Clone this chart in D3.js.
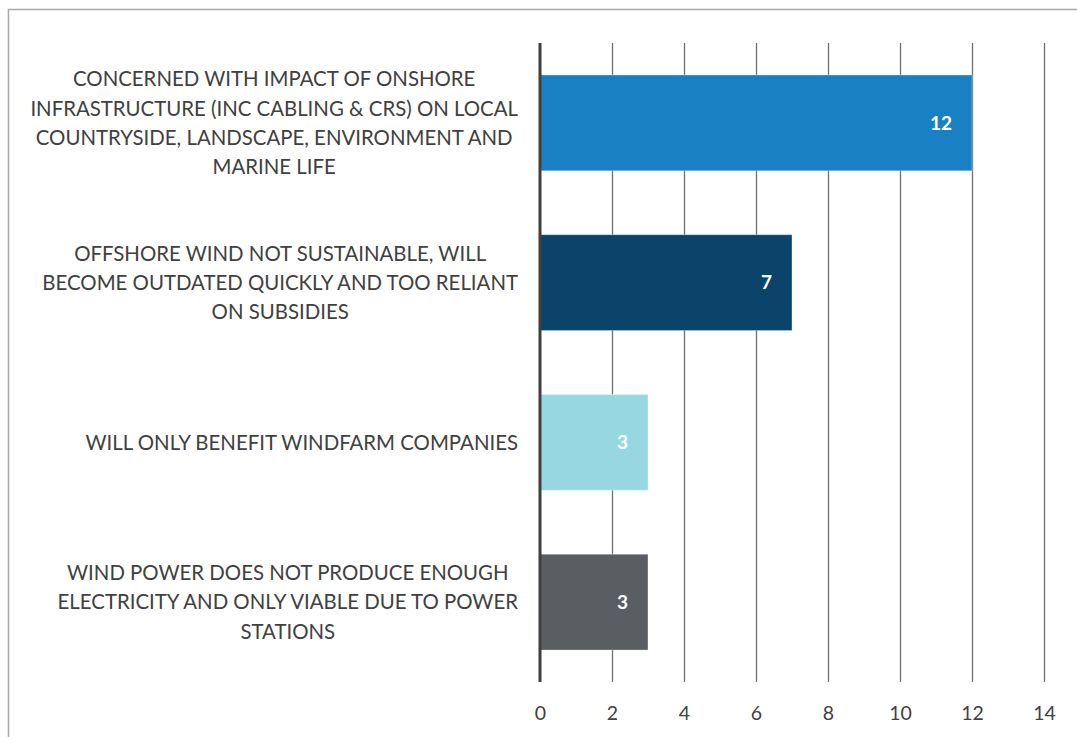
<!DOCTYPE html>
<html>
<head>
<meta charset="utf-8">
<script src="https://cdn.jsdelivr.net/npm/d3@7"></script>
<style>
  html, body { margin: 0; padding: 0; background: #ffffff; }
  svg { display: block; }
  text { font-family: Lato, "Open Sans", sans-serif; }
</style>
</head>
<body>
<svg id="chart" width="1077" height="737"></svg>
<script>
// Responses grouped by concern
const categories = [
  ["CONCERNED WITH IMPACT OF ONSHORE", "INFRASTRUCTURE (INC CABLING & CRS) ON LOCAL", "COUNTRYSIDE, LANDSCAPE, ENVIRONMENT AND", "MARINE LIFE"],
  ["OFFSHORE WIND NOT SUSTAINABLE, WILL", "BECOME OUTDATED QUICKLY AND TOO RELIANT", "ON SUBSIDIES"],
  ["WILL ONLY BENEFIT WINDFARM COMPANIES"],
  ["WIND POWER DOES NOT PRODUCE ENOUGH", "ELECTRICITY AND ONLY VIABLE DUE TO POWER", "STATIONS"]
];
const values = [12, 7, 3, 3];
const barColors = ["#1a80c4", "#0b446b", "#97d7e1", "#5a5e62"];
const xTicks = [0, 2, 4, 6, 8, 10, 12, 14];

const svg = d3.select("#chart");
const W = 1077, H = 737;

// outer chart frame
svg.append("rect")
  .attr("x", 8.5).attr("y", 9.5)
  .attr("width", W + 20).attr("height", H + 20)
  .attr("fill", "none")
  .attr("stroke", "#a9a9a9")
  .attr("stroke-width", 1.5);

const plot = { left: 540, right: 1044, top: 43, bottom: 682 };

const x = d3.scaleLinear().domain([0, 14]).range([plot.left, plot.right]);
const y = d3.scaleBand()
  .domain(d3.range(categories.length))
  .range([plot.top, plot.bottom])
  .paddingInner(0.4)
  .paddingOuter(0.2);

// vertical gridlines
svg.append("g")
  .selectAll("line")
  .data(xTicks.filter(t => t > 0))
  .join("line")
  .attr("x1", d => Math.round(x(d)) + 0.5)
  .attr("x2", d => Math.round(x(d)) + 0.5)
  .attr("y1", plot.top)
  .attr("y2", plot.bottom)
  .attr("stroke", "#707070")
  .attr("stroke-width", 1.3);

// bars
svg.append("g")
  .selectAll("rect")
  .data(values)
  .join("rect")
  .attr("x", x(0))
  .attr("y", (d, i) => y(i))
  .attr("width", d => x(d) - x(0))
  .attr("height", y.bandwidth())
  .attr("fill", (d, i) => barColors[i])
  .attr("stroke", "rgba(255,255,255,0.35)")
  .attr("stroke-width", 1);

// value labels inside bar ends
svg.append("g")
  .selectAll("text")
  .data(values)
  .join("text")
  .attr("x", d => x(d) - 20)
  .attr("y", (d, i) => y(i) + y.bandwidth() / 2)
  .attr("dy", "0.36em")
  .attr("text-anchor", "end")
  .attr("fill", "#ffffff")
  .attr("font-weight", "bold")
  .attr("font-size", 19)
  .text(d => d);

// category axis line
svg.append("line")
  .attr("x1", x(0)).attr("x2", x(0))
  .attr("y1", plot.top).attr("y2", plot.bottom)
  .attr("stroke", "#3f3f3f")
  .attr("stroke-width", 3);

// x axis tick labels
const xAxis = d3.axisBottom(x).tickValues(xTicks).tickSize(0).tickPadding(0);
const gx = svg.append("g")
  .attr("transform", `translate(0,${plot.bottom})`)
  .call(xAxis);
gx.select(".domain").remove();
gx.selectAll("text")
  .attr("y", 31)
  .attr("dy", "0.36em")
  .attr("fill", "#404040")
  .attr("font-size", 19.5)
  .attr("font-family", "Lato, 'Open Sans', sans-serif");

// category labels: multi-line, centred within a block right-aligned to the axis
const labelRight = 518;
const lineH = 29.3;
const labelG = svg.append("g");
categories.forEach((lines, i) => {
  const cy = y(i) + y.bandwidth() / 2;
  const t = labelG.append("text")
    .attr("fill", "#404040")
    .attr("font-size", 20.4)
    .attr("text-anchor", "middle");
  const spans = lines.map((ln, k) =>
    t.append("tspan")
      .attr("y", cy + (k - (lines.length - 1) / 2) * lineH)
      .attr("dy", "0.36em")
      .text(ln));
  const maxW = d3.max(spans, s => s.node().getComputedTextLength());
  spans.forEach(s => s.attr("x", labelRight - maxW / 2));
});
</script>
</body>
</html>
